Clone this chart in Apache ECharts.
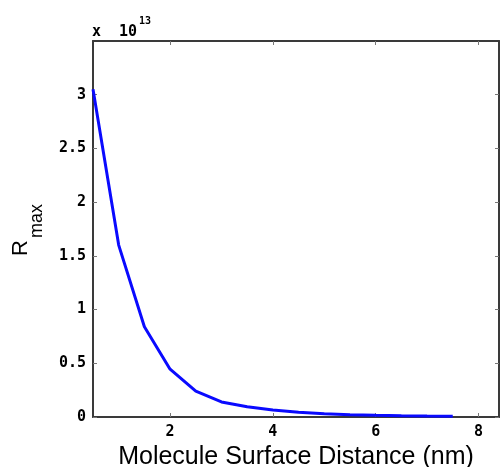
<!DOCTYPE html>
<html>
<head>
<meta charset="utf-8">
<script src="https://cdn.jsdelivr.net/npm/echarts@6/dist/echarts.min.js"></script>
<style>
html,body{margin:0;padding:0;background:#fff;}
#chart{width:501px;height:467px;}
</style>
</head>
<body>
<div id="chart"></div>
<script>
// Data (values in units of 1e13)
const distances = [0.5, 1, 1.5, 2, 2.5, 3, 3.5, 4, 4.5, 5, 5.5, 6, 6.5, 7, 7.5];
const rmax = [3.05, 1.60, 0.84, 0.445, 0.24, 0.14, 0.095, 0.065, 0.045, 0.03, 0.022, 0.016, 0.012, 0.009, 0.007];
const xTicks = [2, 4, 6, 8];
const yTicks = [0, 0.5, 1, 1.5, 2, 2.5, 3];
const xTitle = 'Molecule Surface Distance (nm)';
const yTitleMain = 'R';
const yTitleSub = 'max';
const scaleBase = 'x';
const scaleMant = '10';
const scaleExp = '13';

const chart = echarts.init(document.getElementById('chart'), null, {renderer: 'canvas'});
const tickFont = {fontFamily: 'DejaVu Sans Mono', fontWeight: 'bold', fontSize: 15, color: '#000'};
const axisLine = {show: true, onZero: false, lineStyle: {color: '#3a3a3a', width: 2}};
const tickStyle = {show: true, inside: true, length: 4, lineStyle: {color: '#777', width: 1}};

const grid = {left: 93, right: 2, top: 41, bottom: 50, containLabel: false, outerBoundsMode: 'none'};
const xRange = {min: 0.5, max: 8.4};
const yRange = {min: 0, max: 3.5};

chart.setOption({
  animation: false,
  backgroundColor: '#fff',
  grid: grid,
  xAxis: [
    Object.assign({
      type: 'value', position: 'bottom',
      axisLine: axisLine,
      axisTick: Object.assign({customValues: xTicks}, tickStyle),
      axisLabel: Object.assign({customValues: xTicks, margin: 8}, tickFont),
      splitLine: {show: false},
      name: xTitle, nameLocation: 'middle', nameGap: 27,
      nameTextStyle: {fontFamily: 'Liberation Sans', fontSize: 25, color: '#000'}
    }, xRange),
    Object.assign({
      type: 'value', position: 'top',
      axisLine: axisLine,
      axisTick: Object.assign({customValues: xTicks}, tickStyle),
      axisLabel: {show: false},
      splitLine: {show: false}
    }, xRange)
  ],
  yAxis: [
    Object.assign({
      type: 'value', position: 'left',
      axisLine: axisLine,
      axisTick: Object.assign({customValues: yTicks}, tickStyle),
      axisLabel: Object.assign({customValues: yTicks, margin: 7}, tickFont),
      splitLine: {show: false}
    }, yRange),
    Object.assign({
      type: 'value', position: 'right',
      axisLine: axisLine,
      axisTick: Object.assign({customValues: yTicks}, tickStyle),
      axisLabel: {show: false},
      splitLine: {show: false}
    }, yRange)
  ],
  series: [{
    type: 'line',
    data: distances.map((d, i) => [d, rmax[i]]),
    symbol: 'none',
    lineStyle: {color: '#0a0aff', width: 3},
    itemStyle: {color: '#0a0aff'}
  }],
  graphic: [
    {
      type: 'group', x: 21, y: 256, rotation: Math.PI / 2,
      children: [
        {type: 'text', x: 0, y: 0, style: {text: yTitleMain, font: '22px "Liberation Sans"', fill: '#000', align: 'left', verticalAlign: 'middle'}},
        {type: 'text', x: 18, y: 16, style: {text: yTitleSub, font: '18px "Liberation Sans"', fill: '#000', align: 'left', verticalAlign: 'middle'}}
      ]
    },
    {
      type: 'text', left: 92, top: 16,
      style: {
        text: '{a|' + scaleBase + '}{b|' + scaleMant + '}{c|' + scaleExp + '}',
        rich: {
          a: {font: 'bold 15px "DejaVu Sans Mono"', fill: '#000', width: 27, lineHeight: 32},
          b: {font: 'bold 15px "DejaVu Sans Mono"', fill: '#000', lineHeight: 32},
          c: {font: 'bold 10px "DejaVu Sans Mono"', fill: '#000', lineHeight: 12, verticalAlign: 'top', padding: [0, 0, 0, 2]}
        }
      }
    }
  ]
});
</script>
</body>
</html>
